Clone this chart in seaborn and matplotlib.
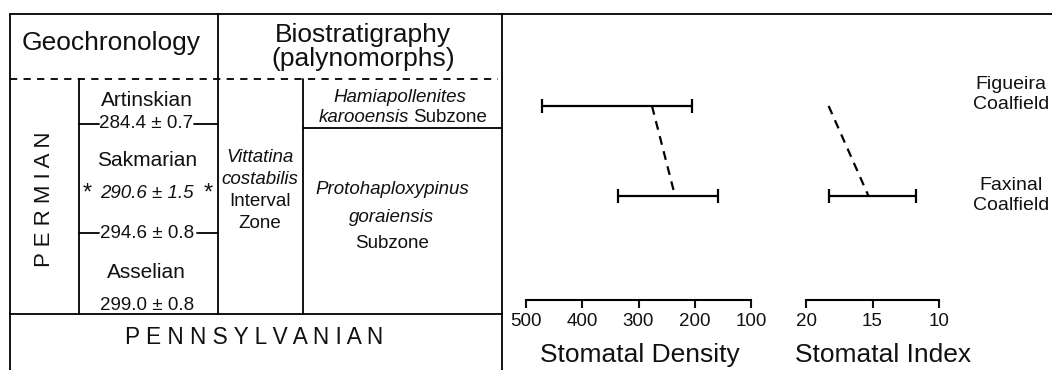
import numpy as np
import pandas as pd
import seaborn as sns
import matplotlib.pyplot as plt

# coalfields (top to bottom)
coalfields = ["Figueira\nCoalfield", "Faxinal\nCoalfield"]
positions = [0, 1]

# stomatal density: mean and range
sd_mean = [276, 235]
sd_low = [205, 159]
sd_high = [472, 336]

# stomatal index: Figueira has no range, only a mean
si_mean = [18.3, 15.3]
si_low = [np.nan, 11.7]
si_high = [np.nan, 18.3]

sd_ticks = [500, 400, 300, 200, 100]
si_ticks = [20, 15, 10]

sns.set_theme(style="white")
plt.rcParams['font.family'] = ['Liberation Sans', 'DejaVu Sans']
plt.rcParams['axes.linewidth'] = 1.5

W, H = 1052, 370
fig = plt.figure(figsize=(W / 100, H / 100), dpi=100)

# overlay in pixel coordinates for the stratigraphic table
bg = fig.add_axes([0, 0, 1, 1])
bg.set_xlim(0, W)
bg.set_ylim(H, 0)
bg.axis("off")

lw = 1.3
k = "black"
bg.plot([10, W], [14, 14], color=k, lw=lw)
bg.plot([10, 10], [14, H], color=k, lw=lw)
bg.plot([502, 502], [14, H], color=k, lw=lw)
bg.plot([10, 502], [314, 314], color=k, lw=lw)
bg.plot([10, 498], [79, 79], color=k, lw=lw, ls=(0, (4, 3.5)))
bg.plot([218, 218], [14, 314], color=k, lw=lw)
bg.plot([79, 79], [79, 314], color=k, lw=lw)
bg.plot([303, 303], [79, 314], color=k, lw=lw)
bg.plot([303, 502], [128, 128], color=k, lw=lw)
for yb, xs in [(124, (99, 194)), (233, (99, 197))]:
    bg.plot([79, xs[0]], [yb, yb], color=k, lw=lw)
    bg.plot([xs[1], 218], [yb, yb], color=k, lw=lw)


def txt(x, y, s, size, style="normal", **kw):
    bg.text(x, y, s, fontsize=size, style=style, ha=kw.pop("ha", "center"),
            va="center", color="#111111", **kw)


txt(111, 43, "Geochronology", 19)
txt(363, 35, "Biostratigraphy", 19)
txt(363, 59, "(palynomorphs)", 19)
txt(44, 199, "P E R M I A N", 16, rotation=90)
txt(147, 100, "Artinskian", 15)
txt(146, 124, "284.4 ± 0.7", 13.5)
txt(147, 161, "Sakmarian", 15)
txt(147, 193, "290.6 ± 1.5", 13.5, style="italic")
txt(87, 194, "*", 17)
txt(208, 194, "*", 17)
txt(147, 233, "294.6 ± 0.8", 13.5)
txt(146, 273, "Asselian", 15)
txt(147, 306, "299.0 ± 0.8", 13.5)
txt(260, 157, "Vittatina", 13.5, style="italic")
txt(260, 180, "costabilis", 13.5, style="italic")
txt(260, 202, "Interval", 13.5)
txt(260, 224, "Zone", 13.5)
txt(400, 97, "Hamiapollenites", 13.5, style="italic")
txt(409, 117, "karooensis", 13.5, style="italic", ha="right")
txt(413, 117, "Subzone", 13.5, ha="left")
txt(392, 190, "Protohaploxypinus", 13.5, style="italic")
txt(392, 217, "goraiensis", 13.5, style="italic")
txt(392, 243, "Subzone", 13.5)
txt(254, 337, "P E N N S Y L V A N I A N", 16.3)

df = pd.DataFrame({"pos": positions, "sd": sd_mean, "si": si_mean})


def panel(x0, x1, col, mean, low, high, lim, ticks, label, label_x=0.5):
    ax = fig.add_axes([x0 / W, 1 - 300 / H, (x1 - x0) / W, (300 - 14) / H])
    ax.patch.set_visible(False)
    mean = np.array(mean, float)
    err = [mean - np.array(low), np.array(high) - mean]
    ax.errorbar(mean, positions, xerr=err, fmt="none", ecolor=k,
                elinewidth=1.6, capsize=5, capthick=1.6)
    sns.lineplot(data=df, x=col, y="pos", sort=False, estimator=None, ax=ax,
                 color=k, lw=1.6, dashes=False, linestyle=(0, (4, 3)))
    ax.set_xlim(*lim)
    ax.set_ylim((300 - 106) / 90, (14 - 106) / 90)
    ax.set_xticks(ticks)
    ax.set_yticks([])
    ax.set_ylabel("")
    ax.set_xlabel(label, fontsize=19, color="#111111")
    ax.xaxis.set_label_coords(label_x, -55 / (300 - 14) * 1.0 + 0.0)
    ax.xaxis.label.set_va("center")
    ax.tick_params(axis="x", direction="out", length=6, width=1.5,
                   labelsize=13.5, pad=3, bottom=True, colors="#111111")
    sns.despine(ax=ax, left=True)
    ax.spines["bottom"].set_color(k)
    return ax


panel(526, 751, "sd", sd_mean, sd_low, sd_high, (500, 100), sd_ticks,
      "Stomatal Density", label_x=(640 - 526) / (751 - 526))
ax_si = panel(806, 939, "si", si_mean, si_low, si_high, (20, 10), si_ticks,
              "Stomatal Index", label_x=(883 - 806) / (939 - 806))

for p, name, dy in zip(positions, coalfields, [-0.128, -0.006]):
    ax_si.text(1.54, p + dy, name, transform=ax_si.get_yaxis_transform(),
               ha="center", va="center", fontsize=14, linespacing=1.3,
               color="#111111", clip_on=False)

fig.savefig("out.png", dpi=100)
